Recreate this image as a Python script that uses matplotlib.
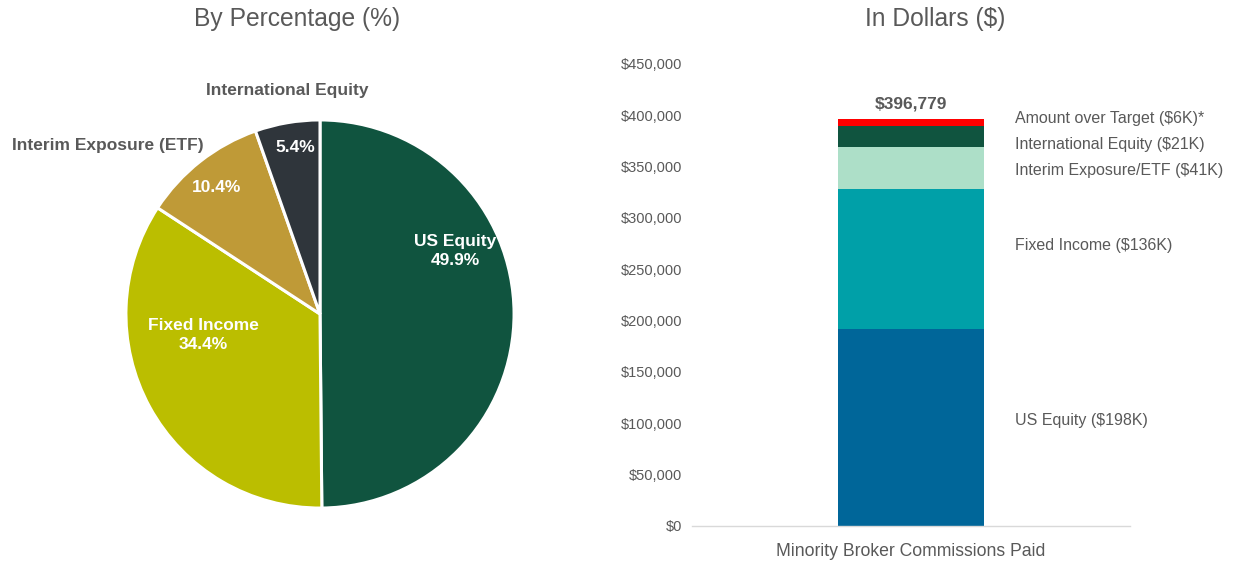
import matplotlib
matplotlib.use("Agg")
import matplotlib.pyplot as plt
from matplotlib.ticker import FuncFormatter

plt.rcParams['font.family'] = ['Liberation Sans', 'DejaVu Sans']

# ---- data ----
pie_labels = ["US Equity", "Fixed Income", "Interim Exposure (ETF)", "International Equity"]
pie_pcts = [49.9, 34.4, 10.4, 5.4]
pie_colors = ["#10543F", "#BBBE00", "#BF9A37", "#2F353B"]

bar_category = "Minority Broker Commissions Paid"
bar_segments = ["US Equity", "Fixed Income", "Interim Exposure/ETF", "International Equity", "Amount over Target"]
bar_values = [192000, 136000, 41000, 21000, 6779]
bar_colors = ["#006699", "#00A0A8", "#ADDFC8", "#10543F", "#FF0000"]
bar_texts = ["US Equity ($198K)", "Fixed Income ($136K)", "Interim Exposure/ETF ($41K)",
             "International Equity ($21K)", "Amount over Target ($6K)*"]
bar_total_label = "$396,779"
y_ticks = list(range(0, 450001, 50000))

W, H = 1236, 563
GREY = "#595959"
fig = plt.figure(figsize=(W / 100, H / 100), dpi=100)


def fx(px):
    return px / W


def fy(py):
    return 1 - py / H


# ---- pie ----
axp = fig.add_axes([fx(124), fy(510), 392 / W, 392 / H])
axp.pie(pie_pcts, colors=pie_colors, startangle=90, counterclock=False,
        wedgeprops=dict(edgecolor="white", linewidth=2.2))
axp.set_xlim(-1.01, 1.01)
axp.set_ylim(-1.01, 1.01)
axp.set_aspect("auto")
axp.axis("off")

fig.text(fx(297), fy(19), "By Percentage (%)", ha="center", va="center", fontsize=17.7, color=GREY)
fig.text(fx(287), fy(90), pie_labels[3], ha="center", va="center", fontsize=12.5,
         fontweight="bold", color=GREY)
fig.text(fx(108), fy(146), pie_labels[2], ha="center", va="center", fontsize=12.5,
         fontweight="bold", color=GREY)
fig.text(fx(295), fy(147), f"{pie_pcts[3]}%", ha="center", va="center", fontsize=12.5,
         fontweight="bold", color="white")
fig.text(fx(217), fy(187), f"{pie_pcts[2]}%", ha="center", va="center", fontsize=12.5,
         fontweight="bold", color="white")
fig.text(fx(455), fy(251), f"{pie_labels[0]}\n{pie_pcts[0]}%", ha="center", va="center",
         fontsize=12.5, fontweight="bold", color="white", linespacing=1.35)
fig.text(fx(203), fy(335), f"{pie_labels[1]}\n{pie_pcts[1]}%", ha="center", va="center",
         fontsize=12.5, fontweight="bold", color="white", linespacing=1.35)

# ---- stacked bar ----
axb = fig.add_axes([fx(692), fy(526), 438 / W, (526 - 64) / H])
bottom = 0
for v, c in zip(bar_values, bar_colors):
    axb.bar([0], [v], bottom=bottom, width=0.667, color=c, linewidth=0)
    bottom += v
total = bottom
axb.set_xlim(-1, 1)
axb.set_ylim(0, 450000)
axb.set_yticks(y_ticks)
axb.yaxis.set_major_formatter(FuncFormatter(lambda v, p: f"${int(v):,}"))
axb.tick_params(axis="y", length=0, labelsize=10.5, labelcolor=GREY, pad=7)
axb.set_xticks([0])
axb.set_xticklabels([bar_category])
axb.tick_params(axis="x", length=0, labelsize=12.7, labelcolor=GREY, pad=12)
for s in ["top", "right", "left"]:
    axb.spines[s].set_visible(False)
axb.spines["bottom"].set_color("#D9D9D9")
axb.spines["bottom"].set_linewidth(1)

axb.text(0, total + 7000, bar_total_label, ha="center", va="bottom", fontsize=12.5,
         fontweight="bold", color=GREY)

# segment labels to the right (pixel rows of the reference layout)
label_rows = [420, 246, 171, 144, 118]
for t, py in zip(bar_texts, label_rows):
    fig.text(fx(1015), fy(py), t, ha="left", va="center", fontsize=11.5, color=GREY)

fig.text(fx(935), fy(19), "In Dollars ($)", ha="center", va="center", fontsize=17.7, color=GREY)

fig.savefig("out.png", dpi=100)
